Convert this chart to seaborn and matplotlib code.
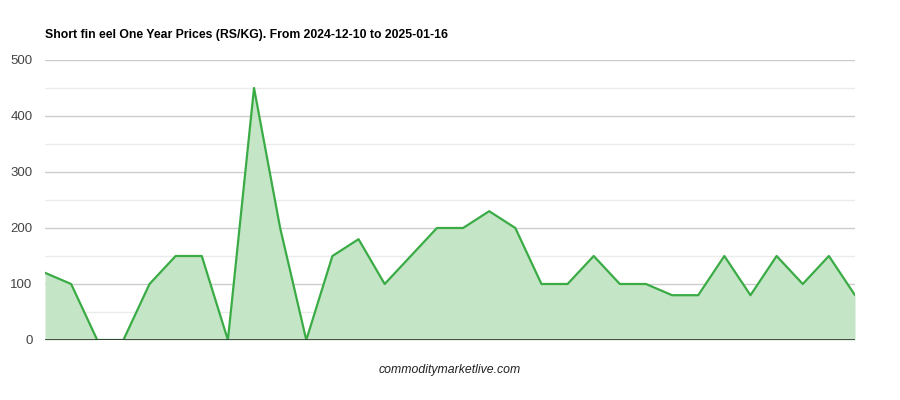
import numpy as np
import pandas as pd
import matplotlib
matplotlib.use("Agg")
import matplotlib.pyplot as plt
import seaborn as sns

prices = [120, 100, 0, 0, 100, 150, 150, 0, 450, 200, 0, 150, 180, 100, 150, 200,
          200, 230, 200, 100, 100, 150, 100, 100, 80, 80, 150, 80, 150, 100, 150, 80]
obs = list(range(len(prices)))
y_ticks = [0, 100, 200, 300, 400, 500]

title = "Short fin eel One Year Prices (RS/KG). From 2024-12-10 to 2025-01-16"
footer = "commoditymarketlive.com"

sns.set_theme(style="white")
plt.rcParams['font.family'] = ['Liberation Sans', 'DejaVu Sans']

df = pd.DataFrame({"obs": obs, "price": prices})

fig = plt.figure(figsize=(9, 4), dpi=100)
ax = fig.add_axes([0.05, 0.15, 0.90, 0.70])

line_color = "#3aab45"
ax.fill_between(df["obs"], df["price"], 0, color="#c4e6c6", lw=0, zorder=2)
sns.lineplot(data=df, x="obs", y="price", ax=ax, color=line_color, lw=1.6, zorder=3)

ax.set_xlim(0, len(prices) - 1)
ax.set_ylim(0, 500)
ax.set_yticks(y_ticks)
ax.set_yticks([50, 150, 250, 350, 450], minor=True)
ax.grid(True, which="major", axis="y", color="#cccccc", lw=1, zorder=1)
ax.grid(True, which="minor", axis="y", color="#ebebeb", lw=1, zorder=1)
ax.axhline(0, color="#333333", lw=1.2, zorder=4)
ax.set_xticks([])
ax.tick_params(axis="y", which="both", length=0, labelsize=9.5, labelcolor="#444444", pad=9)
for s in ax.spines.values():
    s.set_visible(False)
ax.set_xlabel("")
ax.set_ylabel("")

fig.text(45 / 900, 1 - 35 / 400, title, fontsize=8.8, fontweight="bold",
         color="#000000", va="center", ha="left")
fig.text(450 / 900, 1 - 370 / 400, footer, fontsize=8.8, style="italic",
         color="#222222", va="center", ha="center")

fig.savefig("out.png", dpi=100)
